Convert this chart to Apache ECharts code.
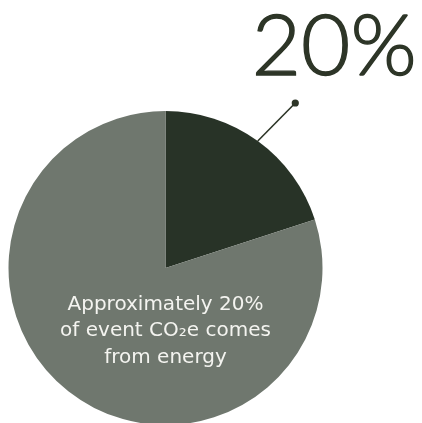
<!DOCTYPE html>
<html>
<head>
<meta charset="utf-8">
<script src="https://cdn.jsdelivr.net/npm/echarts@6/dist/echarts.min.js"></script>
<style>html,body{margin:0;padding:0;background:#fff;}#c{width:422px;height:423px;}</style>
</head>
<body>
<div id="c"></div>
<script>
const categories = ['Energy', 'Other'];
const values = [20, 80];
const colors = ['#283327', '#6f776e'];
const noteLines = ['Approximately 20%', 'of event CO\u2082e comes', 'from energy'];

const cx = 165.5, cy = 268, R = 157;
const chart = echarts.init(document.getElementById('c'));

const total = values.reduce((a, b) => a + b, 0);
const midAngle = (values[0] / total) * Math.PI; // radians clockwise from top
const edgeX = cx + R * Math.sin(midAngle);
const edgeY = cy - R * Math.cos(midAngle);
const dotX = edgeX + 37.5, dotY = edgeY - 38;

chart.setOption({
  animation: false,
  series: [{
    type: 'pie',
    center: [cx, cy],
    radius: [0, R],
    startAngle: 90,
    clockwise: true,
    avoidLabelOverlap: false,
    silent: true,
    data: categories.map((c, i) => ({
      name: c,
      value: values[i],
      itemStyle: { color: colors[i] },
      label: i === 0 ? {
        show: true,
        position: 'outside',
        formatter: '{d}%',
        fontFamily: 'Lato',
        fontWeight: 300,
        fontSize: 85,
        color: '#2d3527',
        textBorderColor: '#2d3527',
        textBorderWidth: 1.4
      } : { show: false },
      labelLine: { show: false }
    })),
    labelLayout: (p) => ({ x: edgeX - 6, y: 48, align: 'left', verticalAlign: 'middle' }),
    itemStyle: { borderWidth: 0 }
  }],
  graphic: [
    { type: 'line', shape: { x1: edgeX, y1: edgeY, x2: dotX, y2: dotY }, style: { stroke: '#2d3527', lineWidth: 1.6 }, z: 100 },
    { type: 'circle', shape: { cx: dotX, cy: dotY, r: 3.6 }, style: { fill: '#2d3527' }, z: 100 },
    { type: 'text', x: cx, y: 331, z: 100, style: {
        text: noteLines.join('\n'), align: 'center', verticalAlign: 'middle',
        fontFamily: 'DejaVu Sans', fontSize: 20, lineHeight: 26.5, fill: '#f4f4f0'
    } }
  ]
});
</script>
</body>
</html>
